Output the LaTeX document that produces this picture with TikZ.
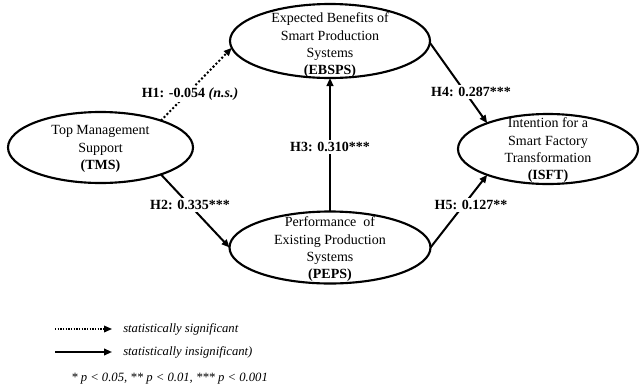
\documentclass[tikz,border=0pt]{standalone}
\usepackage{fontspec}
\setmainfont{Liberation Serif}
\usetikzlibrary{shapes.geometric,arrows.meta}
\begin{document}
\begin{tikzpicture}[x=0.75pt,y=-0.75pt,
  construct/.style={draw, ellipse, line width=1.6pt, inner sep=0pt, outer sep=0pt},
  ctext/.style={align=center, inner sep=0pt, font=\fontsize{10.5}{13}\selectfont},
  path/.style={line width=1.5pt, -{Triangle[length=6pt,width=5pt]}},
  nspath/.style={path, dash pattern=on 1.5pt off 1.6pt},
  lbl/.style={fill=white, inner sep=1.5pt, font=\fontsize{10.5}{13}\selectfont\bfseries},
  legtext/.style={anchor=west, inner sep=0pt, font=\fontsize{9.5}{11}\selectfont\itshape}
]
\useasboundingbox (0,0) rectangle (640,390);

% constructs
\node[construct, minimum width=138.75pt, minimum height=53.25pt] (tms) at (100.5,147.5) {};
\node[construct, minimum width=150pt, minimum height=55.5pt] (ebsps) at (330,41) {};
\node[construct, minimum width=150.75pt, minimum height=54pt] (peps) at (330,247.5) {};
\node[construct, minimum width=135pt, minimum height=52.5pt] (isft) at (548,149) {};

\node[ctext] (tmst) at (100.5,149) {Top Management\\Support\\\textbf{(TMS)}};
\node[ctext] (ebspst) at (330,45.5) {Expected Benefits of\\Smart Production\\Systems\\\textbf{(EBSPS)}};
\node[ctext] (pepst) at (330,249.5) {Performance~~of\\Existing Production\\Systems\\\textbf{(PEPS)}};
\node[ctext] (isftt) at (548,150.5) {Intention for a\\Smart Factory\\Transformation\\\textbf{(ISFT)}};

% paths
\draw[nspath] (tms.24) -- (ebsps.184);
\draw[path] (tms.-24) -- (peps.west);
\draw[path] (peps.north) -- (ebsps.south);
\draw[path] (ebsps.-1) -- (isft.157);
\draw[path] (peps.east) -- (isft.203);

% path labels
\node[lbl] (l1) at (190,94) {H1: -0.054 \textit{(n.s.)}};
\node[lbl] (l2) at (190,205) {H2: 0.335***};
\node[lbl] (l3) at (330,147) {H3: 0.310***};
\node[lbl] (l4) at (471,92) {H4: 0.287***};
\node[lbl] (l5) at (471,205) {H5: 0.127**};

% legend
\coordinate (d1) at (55,329);
\coordinate (d2) at (112,329);
\coordinate (s1) at (55,352);
\coordinate (s2) at (112,352);
\draw[line width=1pt, dash pattern=on 1pt off 1pt, -{Triangle[length=6pt,width=5pt]}] (d1) -- (d2);
\draw[line width=1.3pt, -{Triangle[length=6pt,width=5pt]}] (s1) -- (s2);
\node[legtext] (lt1) at (123,329) {statistically significant};
\node[legtext] (lt2) at (123,352) {statistically insignificant)};
\node[legtext] (fn) at (71,379) {* p {\textless} 0.05, ** p {\textless} 0.01, *** p {\textless} 0.001};
\end{tikzpicture}
\end{document}
